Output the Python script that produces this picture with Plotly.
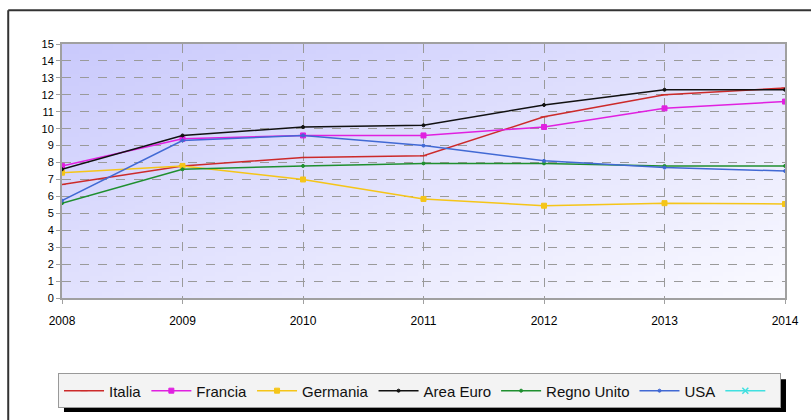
import base64, struct, zlib
import plotly.graph_objects as go

years = [2008, 2009, 2010, 2011, 2012, 2013, 2014]
italia = [6.7, 7.8, 8.3, 8.4, 10.7, 12.0, 12.4]
francia = [7.8, 9.4, 9.6, 9.6, 10.1, 11.2, 11.6]
germania = [7.4, 7.8, 7.0, 5.85, 5.45, 5.6, 5.55]
area_euro = [7.6, 9.6, 10.1, 10.2, 11.4, 12.3, 12.3]
regno_unito = [5.6, 7.6, 7.8, 7.95, 7.95, 7.8, 7.8]
usa = [5.75, 9.3, 9.6, 9.0, 8.1, 7.7, 7.5]
y_ticks = list(range(0, 16))

series = [
    ("Italia", italia, "#cc2a2a", "line-ew", 5),
    ("Francia", francia, "#e020e0", "square", 5),
    ("Germania", germania, "#f5c518", "square", 5),
    ("Area Euro", area_euro, "#111111", "circle", 3),
    ("Regno Unito", regno_unito, "#1f8f2f", "circle", 3),
    ("USA", usa, "#4169d4", "circle", 3),
]

# diagonal gradient background image (PNG data URI)
def gradient_png(w=64, h=64, c0=(202, 202, 252), c1=(250, 250, 255)):
    raw = b""
    for yy in range(h):
        row = b"\x00"
        for xx in range(w):
            t = (xx / (w - 1)) * 0.5 + (yy / (h - 1)) * 0.5
            row += bytes(int(round(c0[i] + (c1[i] - c0[i]) * t)) for i in range(3))
        raw += row
    def chunk(tag, data):
        c = struct.pack(">I", len(data)) + tag + data
        return c + struct.pack(">I", zlib.crc32(tag + data) & 0xffffffff)
    png = b"\x89PNG\r\n\x1a\n"
    png += chunk(b"IHDR", struct.pack(">IIBBBBB", w, h, 8, 2, 0, 0, 0))
    png += chunk(b"IDAT", zlib.compress(raw, 9))
    png += chunk(b"IEND", b"")
    return "data:image/png;base64," + base64.b64encode(png).decode()

fig = go.Figure()
for name, vals, color, sym, size in series:
    fig.add_trace(go.Scatter(
        x=years, y=vals, name=name, mode="lines+markers",
        line=dict(color=color, width=1.5),
        marker=dict(symbol=sym, size=size, color=color,
                    line=dict(color=color, width=1)),
    ))
fig.add_trace(go.Scatter(
    x=[None], y=[None], name=" ", mode="lines+markers",
    line=dict(color="#40e0e0", width=1.5),
    marker=dict(symbol="x-thin", size=6, line=dict(color="#40e0e0", width=1.5)),
))

W, H = 811, 420
L, R, T, B = 62, 23, 44, 120
pw, ph = W - L - R, H - T - B
def px(x):
    return (x - L) / pw
def py(y):
    return (H - B - y) / ph

fig.update_layout(
    width=W, height=H,
    margin=dict(l=L, r=R, t=T, b=B),
    paper_bgcolor="white",
    plot_bgcolor="rgba(0,0,0,0)",
    font=dict(family="Liberation Sans, Arial, sans-serif", color="#000"),
    showlegend=True,
    legend=dict(
        orientation="h", x=px(58), y=py(376), xanchor="left", yanchor="top",
        bgcolor="#f3f3f3", bordercolor="#999999", borderwidth=1,
        font=dict(size=15, color="#111"), itemwidth=40,
        tracegroupgap=0,
    ),
    images=[dict(source=gradient_png(), xref="paper", yref="paper",
                 x=0, y=1, sizex=1, sizey=1, sizing="stretch",
                 xanchor="left", yanchor="top", layer="below")],
    shapes=[
        dict(type="line", xref="paper", yref="paper", x0=px(8), x1=px(8),
             y0=py(10), y1=py(430), line=dict(color="#333", width=2)),
        dict(type="line", xref="paper", yref="paper", x0=px(8), x1=px(820),
             y0=py(10), y1=py(10), line=dict(color="#333", width=2)),
        dict(type="rect", xref="paper", yref="paper", x0=px(64), x1=px(789),
             y0=py(382), y1=py(415), fillcolor="#000", line=dict(width=0)),
    ],
)
fig.update_xaxes(
    range=[2008, 2014], tickvals=years, ticktext=[str(y) for y in years],
    showgrid=True, gridcolor="#9a9a9a", griddash="dash", gridwidth=1,
    showline=True, linecolor="#a0a0a0", linewidth=2, mirror=True,
    ticks="outside", ticklen=4, tickcolor="#a0a0a0", ticklabelstandoff=7,
    tickfont=dict(size=12, color="#000"), zeroline=False,
)
fig.update_yaxes(
    range=[0, 15], tickvals=y_ticks,
    showgrid=True, gridcolor="#9a9a9a", griddash="dash", gridwidth=1,
    showline=True, linecolor="#a0a0a0", linewidth=2, mirror=True,
    ticks="outside", ticklen=4, tickcolor="#a0a0a0",
    tickfont=dict(size=11, color="#000"), zeroline=False,
)
fig.write_html("out.html", config={"displayModeBar": False},
               post_script="document.body.style.margin='0px';document.body.style.overflow='hidden';")
